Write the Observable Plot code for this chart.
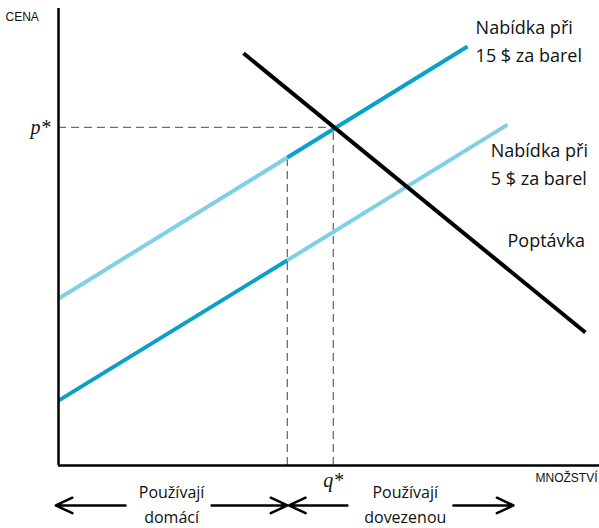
<!DOCTYPE html>
<html>
<head>
<meta charset="utf-8">
<script src="https://cdn.jsdelivr.net/npm/d3@7"></script>
<script src="https://cdn.jsdelivr.net/npm/@observablehq/plot@0.6"></script>
<style>
  html, body { margin: 0; padding: 0; background: #fff; }
</style>
</head>
<body>
<div id="chart"></div>
<script>
// Quantity (x) and price (y) in arbitrary units 0..100
const supply15Q = [0, 42.3, 75.6];
const supply15P = [36.5, 67.4, 91.7];
const supply5Q = [0, 42.3, 83.0];
const supply5P = [14.2, 44.9, 74.6];
const demandQ = [34.2, 97.4];
const demandP = [90.2, 29.1];
const pStar = 74.0;
const qStar = 50.8;
const qDomestic = 42.3;
const importEnd = 84.1;

const DARK = "#0aa0c8";
const LIGHT = "#7fd0e6";

function seg(qs, ps, i) {
  return [{q: qs[i], p: ps[i]}, {q: qs[i + 1], p: ps[i + 1]}];
}
const segments = [
  {pts: seg(supply15Q, supply15P, 0), color: LIGHT},
  {pts: seg(supply15Q, supply15P, 1), color: DARK},
  {pts: seg(supply5Q, supply5P, 0), color: DARK},
  {pts: seg(supply5Q, supply5P, 1), color: LIGHT}
];
const demand = demandQ.map((q, i) => ({q, p: demandP[i]}));

const curveLabels = [
  {q: 77.1, p: 93.4, text: "Nabídka při\n15 $ za barel"},
  {q: 79.9, p: 66.4, text: "Nabídka při\n5 $ za barel"},
  {q: 83.0, p: 49.7, text: "Poptávka"}
];
const useLabels = [
  {q: 20.9, p: -8.1, text: "Používají\ndomácí"},
  {q: 64.1, p: -8.1, text: "Používají\ndovezenou"}
];
const arrows = [
  {x1: 12.4, x2: -0.5}, {x1: 28.3, x2: qDomestic},
  {x1: 53.4, x2: qDomestic + 0.3}, {x1: 73.0, x2: importEnd}
];
const arrowY = -8.75;

const dash = {stroke: "#6e6e6e", strokeWidth: 1.3, strokeDasharray: "8,5"};

const plot = Plot.plot({
  width: 599,
  height: 528,
  marginLeft: 58,
  marginRight: 0,
  marginTop: 8,
  marginBottom: 63,
  x: {domain: [0, 100], axis: null},
  y: {domain: [0, 100], axis: null},
  style: {background: "#fff", fontFamily: "'Open Sans', sans-serif", color: "#111"},
  marks: [
    Plot.ruleY([pStar], {x1: 0, x2: qStar, ...dash}),
    Plot.ruleX([qDomestic], {y1: 0, y2: supply15P[1], ...dash}),
    Plot.ruleX([qStar], {y1: 0, y2: pStar, ...dash}),
    ...segments.map(s => Plot.line(s.pts, {x: "q", y: "p", stroke: s.color, strokeWidth: 4, strokeLinecap: "butt"})),
    Plot.line(demand, {x: "q", y: "p", stroke: "#000", strokeWidth: 4, strokeLinecap: "butt"}),
    Plot.ruleX([0], {stroke: "#000", strokeWidth: 2.5}),
    Plot.ruleY([0], {stroke: "#000", strokeWidth: 2.5}),
    Plot.text(curveLabels, {x: "q", y: "p", text: "text", textAnchor: "start", fontSize: 18, lineHeight: 1.56, lineAnchor: "middle", fill: "#111"}),
    Plot.text(useLabels, {x: "q", y: "p", text: "text", textAnchor: "middle", fontSize: 16, lineHeight: 1.55, lineAnchor: "middle", fill: "#111"}),
    Plot.arrow(arrows, {x1: "x1", x2: "x2", y1: arrowY, y2: arrowY, stroke: "#000", strokeWidth: 2.5, headLength: 11, headAngle: 50}),
    Plot.text(["p*"], {x: 0, y: pStar, dx: -8, textAnchor: "end", fontSize: 20, fontStyle: "italic", fontFamily: "'Liberation Serif', serif", fill: "#111"}),
    Plot.text(["q*"], {x: qStar, y: -3.4, textAnchor: "middle", fontSize: 20, fontStyle: "italic", fontFamily: "'Liberation Serif', serif", fill: "#111"}),
    Plot.text(["CENA"], {x: 0, y: 98.0, dx: -53, textAnchor: "start", fontSize: 12, fontFamily: "'Liberation Sans', Arial, sans-serif", fill: "#111"}),
    Plot.text(["MNOŽSTVÍ"], {x: 100, y: -2.8, dx: -2, textAnchor: "end", fontSize: 12, fontFamily: "'Liberation Sans', Arial, sans-serif", fill: "#111"})
  ]
});
document.getElementById("chart").appendChild(plot);
</script>
</body>
</html>
